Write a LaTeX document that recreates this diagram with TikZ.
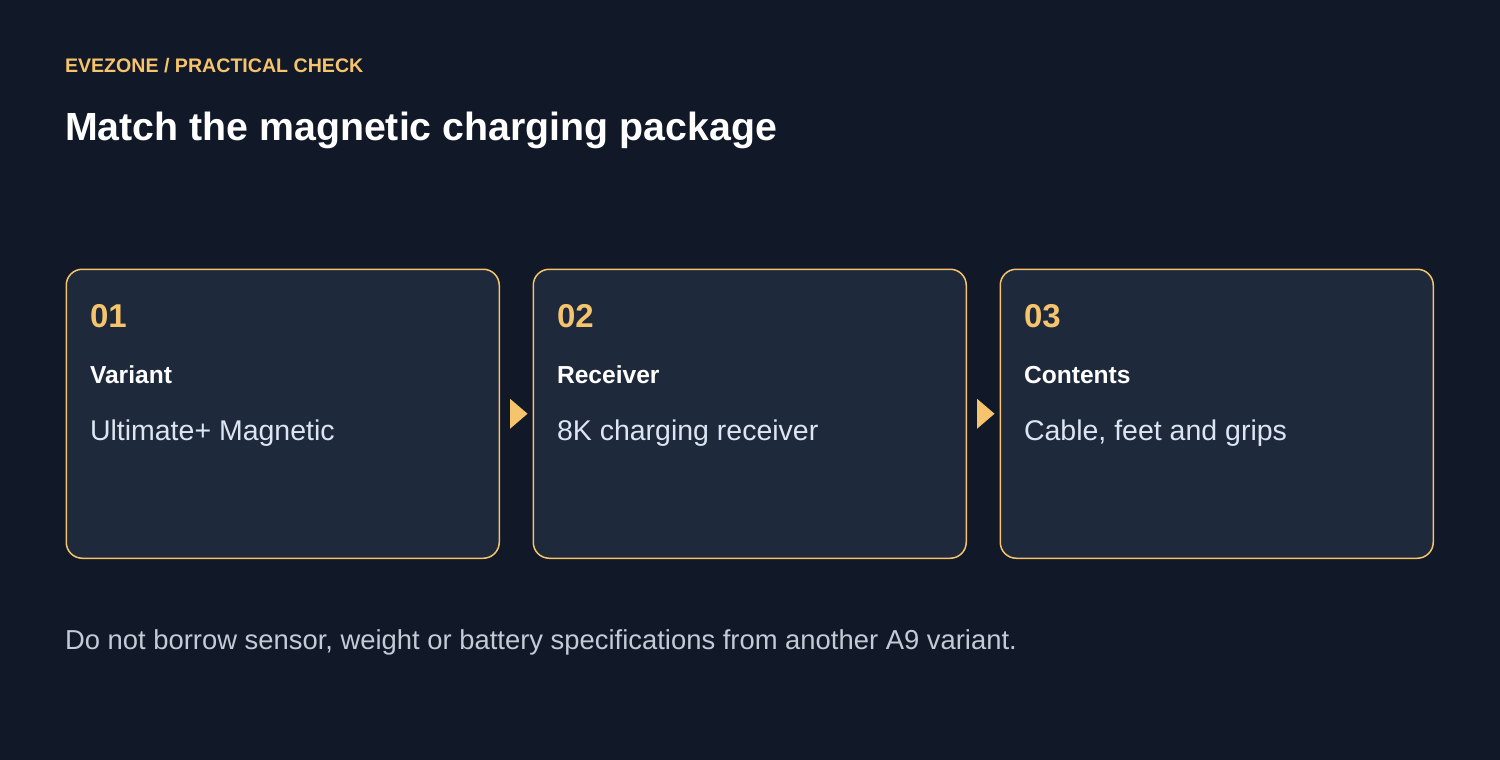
\documentclass[tikz,border=0pt]{standalone}
\usepackage{fontspec}
\setmainfont{Liberation Sans}
\usetikzlibrary{calc}
\definecolor{bg}{HTML}{111827}
\definecolor{card}{HTML}{1E293B}
\definecolor{accent}{HTML}{F5C46C}
\definecolor{body}{HTML}{DCE5F1}
\definecolor{foot}{HTML}{C3CBD6}
\tikzset{
  cardbox/.style={draw=accent, line width=1.5pt, fill=card, rounded corners=16pt,
    minimum width=433pt, minimum height=289pt, inner sep=0pt, anchor=north west},
  txt/.style={anchor=base west, inner sep=0pt, outer sep=0pt},
  kicker/.style={txt, text=accent, font=\fontsize{19.6}{22}\selectfont\bfseries},
  heading/.style={txt, text=white, font=\fontsize{39.3}{46}\selectfont\bfseries},
  num/.style={txt, text=accent, font=\fontsize{33}{40}\selectfont\bfseries},
  label/.style={txt, text=white, font=\fontsize{24.6}{28}\selectfont\bfseries},
  value/.style={txt, text=body, font=\fontsize{28.5}{33}\selectfont},
  note/.style={txt, text=foot, font=\fontsize{27.4}{31}\selectfont},
  tri/.style={fill=accent}
}
\begin{document}
\begin{tikzpicture}[x=1pt,y=-1pt]
\fill[bg] (0,0) rectangle (1500,760);
\useasboundingbox (0,0) rectangle (1500,760);

\node[kicker] (kick) at (65,73) {EVEZONE / PRACTICAL CHECK};
\node[heading] (title) at (65,140) {Match the magnetic charging package};

\node[cardbox] (c1) at (65.5,268.5) {};
\node[cardbox] (c2) at (532.5,268.5) {};
\node[cardbox] (c3) at (999.5,268.5) {};

\node[num] (n1) at (90,327) {01};
\node[label] (l1) at (90,383) {Variant};
\node[value] (v1) at (90,440) {Ultimate+ Magnetic};

\node[num] (n2) at (557,327) {02};
\node[label] (l2) at (557,383) {Receiver};
\node[value] (v2) at (557,440) {8K charging receiver};

\node[num] (n3) at (1024,327) {03};
\node[label] (l3) at (1024,383) {Contents};
\node[value] (v3) at (1024,440) {Cable, feet and grips};

\fill[tri] ($(c1.east)+(10,-15)$) -- ($(c2.west)+(-5,0)$) -- ($(c1.east)+(10,15)$) -- cycle;
\fill[tri] ($(c2.east)+(10,-15)$) -- ($(c3.west)+(-5,0)$) -- ($(c2.east)+(10,15)$) -- cycle;

\node[note] (foot) at (65,649) {Do not borrow sensor, weight or battery specifications from another A9 variant.};
\end{tikzpicture}
\end{document}
